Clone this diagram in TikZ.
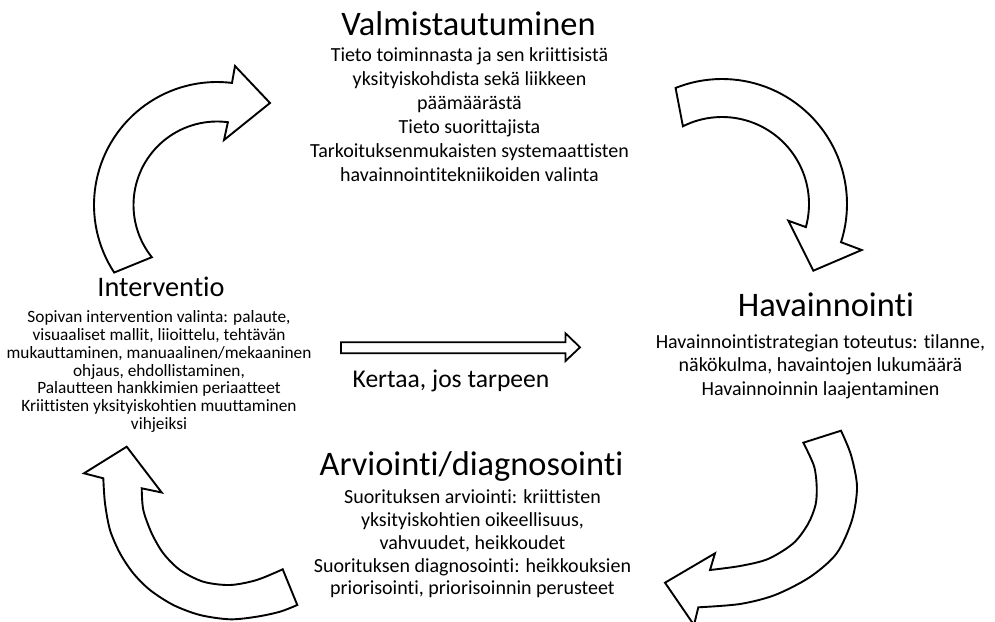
\documentclass[tikz,border=0pt]{standalone}
\usepackage{fontspec}
\setmainfont{Carlito}[Ligatures=NoCommon]
\begin{document}
\begin{tikzpicture}[x=1pt,y=-1pt,
  bigarrow/.style={draw=black, line width=1.9pt, line join=miter, fill=white},
  ttl/.style={inner sep=0pt, anchor=base, font=\fontsize{34.4}{41}\selectfont},
  ln/.style={inner sep=0pt, anchor=base, font=\fontsize{20}{24}\selectfont},
  lns/.style={inner sep=0pt, anchor=base, font=\fontsize{17.3}{18}\selectfont}]
\useasboundingbox (0,0) rectangle (995,621);

% ---------- curved arrows ----------
% top-left arrow (towards Valmistautuminen)
\draw[bigarrow] plot[domain=146.7:277, samples=50] ({217+123*cos(\x)},{205+123*sin(\x)})
  -- (235,66) -- (270,103) -- (224,140)
  -- plot[domain=277.5:141.3, samples=50] ({217+83.5*cos(\x)},{205+83.5*sin(\x)}) -- cycle;

% top-right arrow (towards Havainnointi)
\draw[bigarrow] plot[domain=248.2:377.8, samples=50] ({722+125*cos(\x)},{204+125*sin(\x)})
  -- (861.7,250) -- (813.3,270.7) -- (788.3,220.7)
  -- plot[domain=375.4:243.3, samples=50] ({722+87*cos(\x)},{204+87*sin(\x)}) -- cycle;

% bottom-right arrow (towards Arviointi/diagnosointi)
\draw[bigarrow] plot[smooth] coordinates {(841,430.7) (851,455) (857,486.7) (852,520) (836.7,553.3) (810,577) (775,595) (740,604) (698.3,607.3)}
  -- (694,625) -- (665,582.7) -- (715,553.3)
  -- plot[smooth] coordinates {(710,570) (740,566) (768,559) (793.3,543.3) (808,524) (815.5,505) (816.7,486.7) (814,466) (803.3,442.7)} -- cycle;

% bottom-left arrow (towards Interventio)
\draw[bigarrow] plot[smooth] coordinates {(297.3,605) (280,611.7) (256.7,616.7) (230,619.3) (200,615) (173.3,605) (150,590) (133.3,573.3) (120,553.3) (110,530) (105,503.3) (103.3,478.3)}
  -- (84,473.3) -- (126.7,446.7) -- (161.7,492.5)
  -- plot[smooth] coordinates {(141.7,488.3) (143.3,510) (151.7,533.3) (163.3,553.3) (180,570) (203.3,581.7) (230,585) (256.7,580) (282.7,569.3)} -- cycle;

% straight arrow
\draw[bigarrow, line width=1.8pt] (341,342.3) -- (565.5,342.3) -- (565.5,333.3) -- (580,347.3)
  -- (565.5,361) -- (565.5,353.3) -- (341,353.3) -- cycle;

% ---------- Valmistautuminen ----------
\node[ttl] (valtitle) at (468.5,35) {Valmistautuminen};
\node[ln] (val1) at (469.5,61.5) {Tieto toiminnasta ja sen kriittisistä};
\node[ln] (val2) at (469.5,85.4) {yksityiskohdista sekä liikkeen};
\node[ln] (val3) at (469.5,109.3) {päämäärästä};
\node[ln] (val4) at (469.5,133.2) {Tieto suorittajista};
\node[ln] (val5) at (469.5,157.1) {Tarkoituksenmukaisten systemaattisten};
\node[ln] (val6) at (469.5,181) {havainnointitekniikoiden valinta};

% ---------- Havainnointi ----------
\node[ttl] (havtitle) at (826,316.7) {Havainnointi};
\node[ln] (hav1) at (820.5,348.3) {Havainnointistrategian toteutus: tilanne,};
\node[ln] (hav2) at (820.5,371.7) {näkökulma, havaintojen lukumäärä};
\node[ln] (hav3) at (820.5,395.1) {Havainnoinnin laajentaminen};

% ---------- Arviointi/diagnosointi ----------
\node[ttl] (arvtitle) at (471.5,475) {Arviointi/diagnosointi};
\node[ln] (arv1) at (472.5,503.3) {Suorituksen arviointi: kriittisten};
\node[ln] (arv2) at (472.5,526.2) {yksityiskohtien oikeellisuus,};
\node[ln] (arv3) at (472.5,549.1) {vahvuudet, heikkoudet};
\node[ln] (arv4) at (472.5,572) {Suorituksen diagnosointi: heikkouksien};
\node[ln] (arv5) at (472.5,594.9) {priorisointi, priorisoinnin perusteet};

% ---------- Interventio ----------
\node[ttl, font=\fontsize{28.3}{34}\selectfont] (inttitle) at (161,296) {Interventio};
\node[lns] (int1) at (159,322.3) {Sopivan intervention valinta: palaute,};
\node[lns] (int2) at (159,340.2) {visuaaliset mallit, liioittelu, tehtävän};
\node[lns] (int3) at (159,358.1) {mukauttaminen, manuaalinen/mekaaninen};
\node[lns] (int4) at (159,376) {ohjaus, ehdollistaminen,};
\node[lns] (int5) at (159,393.9) {Palautteen hankkimien periaatteet};
\node[lns] (int6) at (159,411.8) {Kriittisten yksityiskohtien muuttaminen};
\node[lns] (int7) at (159,429.7) {vihjeiksi};

% ---------- repeat label ----------
\node[inner sep=0pt, anchor=base, font=\fontsize{25.6}{30}\selectfont] (kertaa) at (451,387) {Kertaa, jos tarpeen};
\end{tikzpicture}
\end{document}
